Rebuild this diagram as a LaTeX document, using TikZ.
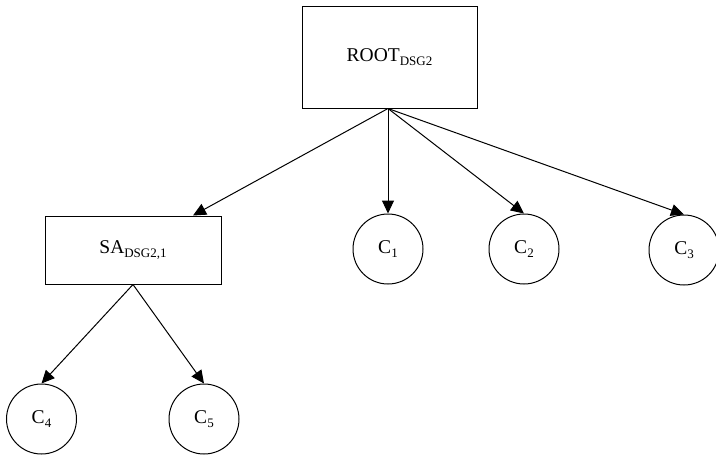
\documentclass[tikz,border=0pt]{standalone}
\usepackage{fontspec}
\setmainfont{Liberation Serif}
\usetikzlibrary{arrows.meta,calc}
% lowered, smaller index text used in the labels
\newcommand{\lowtext}[1]{\raisebox{-3.5pt}{\fontsize{13}{13}\selectfont #1}}
\begin{document}
\begin{tikzpicture}[x=1pt,y=-1pt,
  every node/.style={font=\fontsize{19.5}{19.5}\selectfont},
  box/.style={draw, line width=1pt, inner sep=0pt},
  leaf/.style={draw, circle, line width=1pt, minimum size=70pt, inner sep=0pt},
  link/.style={line width=1pt, -{Triangle[length=13pt,width=12pt]}}]
\useasboundingbox (0,0) rectangle (716,456);
\clip (0,0) rectangle (716,456);

% boxes
\node[box, minimum width=175pt, minimum height=102pt] (root) at (389.5,57) {ROOT\lowtext{DSG2}};
\node[box, minimum width=176pt, minimum height=68pt] (sa) at (133,250) {SA\lowtext{DSG2,1}};

% leaves
\node[leaf] (c1) at (388,249) {C\lowtext{1}};
\node[leaf] (c2) at (524,249) {C\lowtext{2}};
\node[leaf] (c3) at (684,250) {C\lowtext{3}};
\node[leaf] (c4) at (41.5,419) {C\lowtext{4}};
\node[leaf] (c5) at (204,419) {C\lowtext{5}};

% connectors
\coordinate (rootout) at ($(root.south)+(-1.5,0)$);
\coordinate (sain) at ($(sa.north)+(60,0)$);
\draw[link] (rootout) -- (sain);
\draw[link] (rootout) -- (c1.north);
\draw[link] (rootout) -- (c2.north);
\draw[link] (rootout) -- (c3.north);
\draw[link] (sa.south) -- (c4.north);
\draw[link] (sa.south) -- (c5.north);
\end{tikzpicture}
\end{document}
